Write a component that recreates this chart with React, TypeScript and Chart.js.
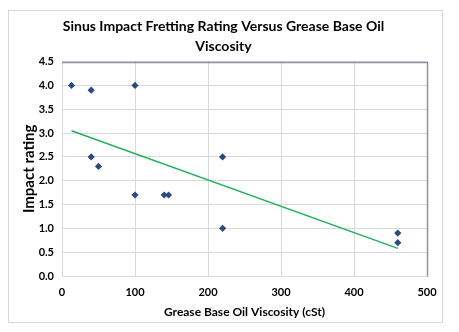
import React, { useEffect, useRef } from "react";
import { Chart, registerables } from "chart.js";

Chart.register(...registerables);

const viscosity = [13, 40, 100, 40, 50, 100, 140, 146, 220, 220, 460, 460];
const impactRating = [4.0, 3.9, 4.0, 2.5, 2.3, 1.7, 1.7, 1.7, 2.5, 1.0, 0.9, 0.7];
const trendX = [13, 460];
const trendY = [3.05, 0.58];
const titleLines = ["Sinus Impact Fretting Rating Versus Grease Base Oil", "Viscosity"];
const xTitle = "Grease Base Oil Viscosity (cSt)";
const yTitle = "Impact rating";

const FONT = "Lato, 'Open Sans', sans-serif";

const framePlugin = {
  id: "frame",
  beforeDraw(chart: any) {
    const ctx = chart.ctx;
    ctx.save();
    ctx.fillStyle = "#ffffff";
    ctx.fillRect(0, 0, chart.width, chart.height);
    ctx.strokeStyle = "#d9d9d9";
    ctx.lineWidth = 1;
    ctx.strokeRect(8.5, 10.5, 434, 312);
    ctx.restore();
  },
  beforeDatasetsDraw(chart: any) {
    const { left, right, top, bottom } = chart.chartArea;
    const ctx = chart.ctx;
    ctx.save();
    ctx.lineWidth = 1;
    ctx.strokeStyle = "#d9d9d9";
    ctx.beginPath();
    ctx.moveTo(Math.round(left) + 0.5, Math.round(top));
    ctx.lineTo(Math.round(left) + 0.5, Math.round(bottom) + 0.5);
    ctx.lineTo(Math.round(right), Math.round(bottom) + 0.5);
    ctx.stroke();
    ctx.strokeStyle = "#8a93a6";
    ctx.lineWidth = 1.5;
    ctx.beginPath();
    ctx.moveTo(Math.round(left), Math.round(top) + 0.5);
    ctx.lineTo(Math.round(right) + 0.5, Math.round(top) + 0.5);
    ctx.lineTo(Math.round(right) + 0.5, Math.round(bottom) + 0.5);
    ctx.stroke();
    ctx.restore();
  },
};

export default function App() {
  const ref = useRef<HTMLCanvasElement>(null);
  useEffect(() => {
    if (!ref.current) return;
    const chart = new Chart(ref.current, {
      type: "scatter",
      data: {
        datasets: [
          {
            label: "Impact rating",
            data: viscosity.map((x, i) => ({ x, y: impactRating[i] })),
            pointStyle: "rectRot",
            pointRadius: 3.6,
            backgroundColor: "#2c4a7e",
            borderColor: "#2c4a7e",
            borderWidth: 0,
            order: 1,
          },
          {
            label: "Trend",
            data: trendX.map((x, i) => ({ x, y: trendY[i] })),
            showLine: true,
            pointRadius: 0,
            borderColor: "#1fb25a",
            borderWidth: 1.5,
            order: 2,
          },
        ],
      },
      options: {
        animation: false,
        responsive: false,
        layout: { padding: { left: 20, right: 32, top: 10, bottom: 8 } },
        plugins: {
          legend: { display: false },
          tooltip: { enabled: false },
          title: {
            display: true,
            text: titleLines,
            color: "#000000",
            font: { family: FONT, size: 14, weight: "bold", lineHeight: 1.45 },
            padding: { top: 6, bottom: 5 },
          },
        },
        scales: {
          x: {
            type: "linear",
            min: 0,
            max: 500,
            ticks: {
              stepSize: 100,
              color: "#000000",
              font: { family: FONT, size: 11, weight: "bold" },
              padding: 10,
            },
            grid: { color: "#d9d9d9", drawTicks: false },
            border: { display: false },
            title: {
              display: true,
              text: xTitle,
              color: "#000000",
              font: { family: FONT, size: 12, weight: "bold" },
              padding: { top: 2, bottom: 5 },
            },
            afterFit(scale: any) {
              scale.height = 48;
            },
          },
          y: {
            min: 0,
            max: 4.5,
            ticks: {
              stepSize: 0.5,
              color: "#000000",
              font: { family: FONT, size: 11, weight: "bold" },
              padding: 8,
              callback: (v: any) => Number(v).toFixed(1),
            },
            grid: { color: "#d9d9d9", drawTicks: false },
            border: { display: false },
            title: {
              display: true,
              text: yTitle,
              color: "#000000",
              font: { family: FONT, size: 15, weight: "bold" },
              padding: { top: 0, bottom: 1 },
            },
            afterFit(scale: any) {
              scale.width = 42;
            },
          },
        },
      },
      plugins: [framePlugin],
    });
    return () => chart.destroy();
  }, []);
  return (
    <div style={{ position: "fixed", left: 0, top: 0, width: 459, height: 332 }}>
      <canvas ref={ref} width={459} height={332} style={{ width: 459, height: 332 }} />
    </div>
  );
}
